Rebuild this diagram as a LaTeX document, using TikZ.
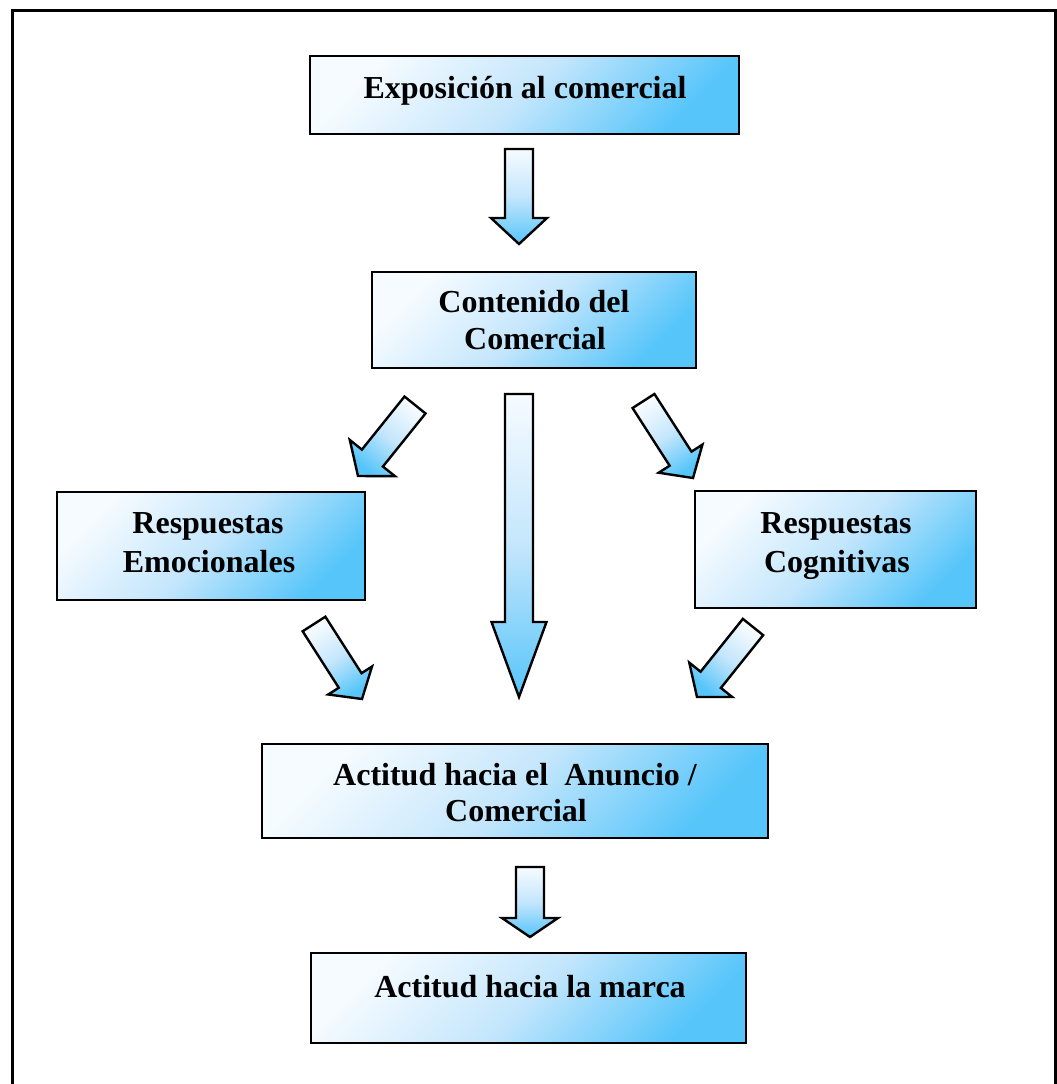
\documentclass[tikz,border=0pt]{standalone}
\usepackage{fontspec}
\setmainfont{Liberation Serif}
\usetikzlibrary{calc}
\definecolor{lightc}{RGB}{246,251,255}
\definecolor{midc}{RGB}{196,230,252}
\definecolor{darkc}{RGB}{86,197,250}
\pgfdeclareverticalshading{blueshade}{100bp}{color(0bp)=(darkc); color(25bp)=(darkc); color(50bp)=(midc); color(75bp)=(lightc); color(100bp)=(lightc)}
\newcommand\blockarr[6]{%
  \coordinate (hb) at ($(#2)!#5!(#1)$);
  \path[arr, shading angle=#6]
    ($(#1)!#3!90:(#2)$) -- ($(hb)!#3!90:(#2)$) -- ($(hb)!#4!90:(#2)$) -- (#2)
    -- ($(hb)!#4!-90:(#2)$) -- ($(hb)!#3!-90:(#2)$) -- ($(#1)!#3!-90:(#2)$) -- cycle;
}
\begin{document}
\begin{tikzpicture}[x=1pt,y=-1pt,
  box/.style={rectangle, draw=black, line width=2.6pt, shade, shading=blueshade, shading angle=45, inner sep=0pt},
  arr/.style={draw=black, line width=2.4pt, line join=miter, shade, shading=blueshade},
  lbl/.style={font=\fontsize{32}{38}\selectfont\bfseries, inner sep=0pt, anchor=base},
  frame/.style={draw=black, line width=3pt}]
\useasboundingbox (0,0) rectangle (1057,1084);
\draw[frame] (12,1090) -- (12,10) -- (1055,10) -- (1055,1090);

% boxes
\node[box, minimum width=429pt, minimum height=78pt] (b1) at (524.5,95) {};
\node[box, minimum width=324pt, minimum height=96pt] (b2) at (534,320) {};
\node[box, minimum width=308pt, minimum height=108pt] (bl) at (211,546) {};
\node[box, minimum width=281pt, minimum height=117pt] (br) at (835.5,549.5) {};
\node[box, minimum width=506pt, minimum height=94pt] (b4) at (515,791) {};
\node[box, minimum width=435pt, minimum height=90pt] (b5) at (528.5,998) {};

% labels
\node[lbl] (t1) at (525,98) {Exposición al comercial};
\node[lbl] (t2a) at (534,312) {Contenido del};
\node[lbl] (t2b) at (535,349) {Comercial};
\node[lbl] (tla) at (208,533) {Respuestas};
\node[lbl] (tlb) at (209,572) {Emocionales};
\node[lbl] (tra) at (836,533) {Respuestas};
\node[lbl] (trb) at (837,572) {Cognitivas};
\node[lbl] (t4a) at (515,785) {Actitud hacia el\ \ Anuncio /};
\node[lbl] (t4b) at (516,821) {Comercial};
\node[lbl] (t5) at (530,997) {Actitud hacia la marca};

% arrow end points
\coordinate (a1t) at (519,149); \coordinate (a1p) at (519,244);
\coordinate (a2t) at (519,394); \coordinate (a2p) at (519,697);
\coordinate (a3t) at (530,867); \coordinate (a3p) at (530,937);
\coordinate (a4t) at (415,405); \coordinate (a4p) at (358,476);
\coordinate (a5t) at (643.5,401); \coordinate (a5p) at (693,478);
\coordinate (a6t) at (314,624); \coordinate (a6p) at (362,699);
\coordinate (a7t) at (753,627); \coordinate (a7p) at (697,697);

\blockarr{a1t}{a1p}{14pt}{28pt}{26pt}{0}
\blockarr{a2t}{a2p}{14pt}{27.5pt}{75pt}{0}
\blockarr{a3t}{a3p}{14pt}{28pt}{19pt}{0}
\blockarr{a4t}{a4p}{13.5pt}{29pt}{23pt}{-39}
\blockarr{a5t}{a5p}{13pt}{26pt}{23pt}{33}
\blockarr{a6t}{a6p}{13.5pt}{26pt}{22pt}{32}
\blockarr{a7t}{a7p}{13pt}{27.5pt}{22pt}{-39}
\end{tikzpicture}
\end{document}
